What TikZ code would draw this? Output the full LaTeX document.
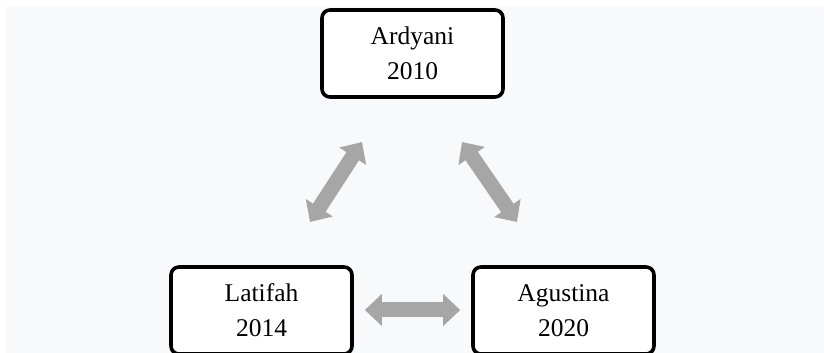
\documentclass[tikz,border=0pt]{standalone}
\usepackage{fontspec}
\setmainfont{Liberation Serif}
\usetikzlibrary{arrows.meta}
\definecolor{bgray}{HTML}{F8F9FA}
\definecolor{arrgray}{HTML}{A6A6A6}
\tikzset{
  namebox/.style={draw=black, line width=3.6pt, rounded corners=8pt, fill=white,
    minimum width=181pt, minimum height=87pt, align=center, inner sep=0pt,
    font=\fontsize{25.5pt}{35pt}\selectfont},
  blockarrow/.style={draw=arrgray, line width=15pt,
    {Triangle[width=31pt,length=17pt]}-{Triangle[width=31pt,length=17pt]}}
}
\begin{document}
\begin{tikzpicture}[x=1pt,y=1pt]
\useasboundingbox (0,0) rectangle (824,353);
\clip (0,0) rectangle (824,353);
\fill[white] (0,0) rectangle (824,353);
\fill[bgray] (6,0) rectangle (824,346);
\node[namebox] (ard) at (412.5,299.5) {Ardyani\\2010};
\node[namebox] (lat) at (261.5,42.5) {Latifah\\2014};
\node[namebox] (agu) at (563.5,42.5) {Agustina\\2020};
\coordinate (l1) at (310,131);
\coordinate (l2) at (362,211);
\coordinate (r1) at (462,211);
\coordinate (r2) at (517,131);
\coordinate (h1) at ([xshift=11pt]lat.east |- 0,43);
\coordinate (h2) at ([xshift=-11pt]agu.west |- 0,43);
\draw[blockarrow] (l1) -- (l2);
\draw[blockarrow] (r1) -- (r2);
\draw[blockarrow] (h1) -- (h2);
\end{tikzpicture}
\end{document}
